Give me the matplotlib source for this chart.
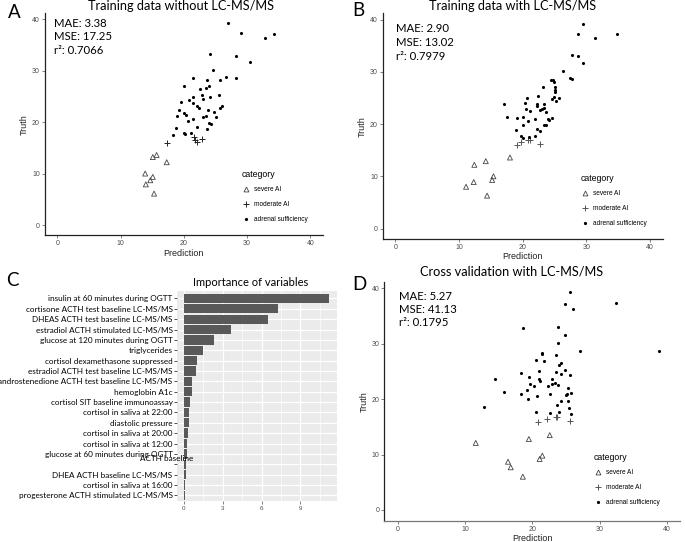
import numpy as np
import matplotlib
matplotlib.use("Agg")
import matplotlib.pyplot as plt
from matplotlib.lines import Line2D

# ---- data ----
# Panel A: training data without LC-MS/MS
a_severe_pred = [15.1, 15.7, 17.3, 13.9, 14.0, 14.7, 15.1, 15.3]
a_severe_truth = [13.2, 13.6, 12.2, 10.0, 7.9, 8.7, 9.35, 6.1]
a_moderate_pred = [17.3, 21.6, 21.7, 22.1, 22.8]
a_moderate_truth = [15.9, 17.1, 16.6, 16.1, 16.7]
a_suff_pred = [27.0, 29.0, 32.8, 34.3, 24.1, 28.2, 30.5, 24.6, 21.5, 23.6, 25.7, 26.7, 28.3,
               20.1, 24.0, 22.5, 23.5, 22.8, 24.2, 25.5, 21.4, 23.1, 19.6, 20.9, 21.5, 22.1,
               22.4, 23.9, 26.0, 25.7, 19.3, 24.8, 20.0, 20.4, 19.0, 23.0, 23.5, 25.1, 21.4,
               20.7, 24.0, 24.3, 22.1, 23.7, 18.7, 18.3, 20.0, 20.2, 21.1]
a_suff_truth = [39.3, 37.3, 36.4, 37.2, 33.2, 32.9, 31.6, 30.2, 28.6, 28.2, 28.1, 28.8, 28.6,
                27.0, 27.1, 26.4, 26.6, 25.3, 24.8, 25.2, 24.8, 24.4, 23.9, 24.2, 23.8, 23.2,
                22.8, 22.4, 23.1, 22.7, 22.4, 22.0, 21.7, 21.4, 21.1, 21.0, 21.2, 20.9, 20.6,
                20.2, 19.9, 19.7, 19.1, 18.6, 18.8, 17.4, 17.8, 17.6, 17.8]

# Panel B: training data with LC-MS/MS
b_severe_pred = [18.0, 12.4, 14.2, 15.4, 15.2, 11.1, 12.3, 14.4]
b_severe_truth = [13.6, 12.2, 12.9, 10.0, 9.3, 8.0, 8.9, 6.3]
b_moderate_pred = [19.1, 19.8, 20.8, 21.2, 22.7]
b_moderate_truth = [15.9, 16.5, 17.0, 16.9, 16.1]
b_suff_pred = [29.5, 28.7, 31.4, 34.8, 27.8, 28.7, 29.5, 26.4, 27.5, 27.7, 24.4, 24.7, 24.9,
               23.2, 25.0, 25.1, 25.0, 17.0, 20.6, 20.4, 22.4, 24.9, 25.7, 24.6, 25.3, 22.2,
               22.3, 23.3, 23.4, 22.7, 23.0, 23.6, 20.5, 21.1, 17.6, 19.1, 20.0, 20.8, 22.0,
               23.9, 24.1, 24.6, 20.1, 23.4, 23.6, 22.3, 18.9, 22.7, 19.7, 20.0, 21.0, 21.9]
b_suff_truth = [39.2, 37.3, 36.4, 37.3, 33.3, 33.0, 31.7, 30.2, 28.8, 28.7, 28.4, 28.5, 28.1,
                27.1, 27.1, 26.6, 26.2, 23.9, 24.9, 24.1, 25.3, 25.2, 24.9, 24.8, 24.4, 23.9,
                23.5, 23.9, 23.0, 22.6, 22.9, 22.3, 22.9, 22.5, 21.3, 21.1, 21.4, 20.6, 21.0,
                20.9, 20.7, 21.2, 19.8, 19.9, 19.8, 19.1, 18.8, 18.6, 17.8, 17.4, 17.6, 17.8]

# Panel D: cross validation with LC-MS/MS
d_severe_pred = [11.6, 19.5, 22.6, 21.5, 21.1, 16.4, 16.8, 18.6]
d_severe_truth = [12.1, 12.8, 13.5, 9.8, 9.2, 8.7, 7.7, 6.0]
d_moderate_pred = [20.9, 22.2, 23.6, 23.7, 25.6]
d_moderate_truth = [15.8, 16.4, 16.7, 16.8, 16.0]
d_suff_pred = [25.6, 24.8, 26.1, 32.4, 18.6, 23.8, 24.9, 23.8, 27.1, 38.9, 21.4, 21.4, 23.5,
               20.5, 21.8, 24.0, 24.3, 18.3, 21.0, 23.6, 24.9, 24.3, 25.6, 14.5, 19.5, 21.0,
               21.1, 22.9, 19.7, 20.3, 22.4, 22.9, 23.4, 23.9, 25.3, 18.3, 19.2, 15.8, 22.7,
               25.0, 25.2, 25.8, 19.4, 20.7, 24.3, 25.3, 23.7, 12.8, 25.5, 20.5, 22.6, 24.0, 25.7]
d_suff_truth = [39.3, 37.1, 36.2, 37.3, 32.9, 33.1, 31.5, 30.1, 28.6, 28.7, 28.4, 28.1, 28.0,
                27.0, 26.9, 26.2, 26.5, 24.7, 25.1, 24.9, 25.2, 24.5, 24.3, 23.7, 24.0, 23.7,
                23.3, 23.7, 22.8, 22.3, 22.4, 22.8, 22.9, 22.6, 22.0, 21.0, 21.6, 21.2, 20.9,
                20.7, 20.9, 21.1, 20.1, 20.5, 19.6, 19.7, 19.0, 18.6, 18.4, 17.7, 17.5, 17.7, 17.3]

# Panel C: variable importance (top to bottom)
variables = ["insulin at 60 minutes during OGTT", "cortisone ACTH test baseline LC-MS/MS",
             "DHEAS ACTH test baseline LC-MS/MS", "estradiol ACTH stimulated LC-MS/MS",
             "glucose at 120 minutes during OGTT", "triglycerides",
             "cortisol dexamethasone suppressed", "estradiol ACTH test baseline LC-MS/MS",
             "androstenedione ACTH test baseline LC-MS/MS", "hemoglobin A1c",
             "cortisol SIT baseline immunoassay", "cortisol in saliva at 22:00",
             "diastolic pressure", "cortisol in saliva at 20:00", "cortisol in saliva at 12:00",
             "glucose at 60 minutes during OGTT", "", "DHEA ACTH baseline LC-MS/MS",
             "cortisol in saliva at 16:00", "progesterone ACTH stimulated LC-MS/MS"]
importance = [11.24, 7.26, 6.52, 3.63, 2.33, 1.45, 0.99, 0.91, 0.61, 0.61,
              0.46, 0.41, 0.36, 0.28, 0.25, 0.23, 0.18, 0.13, 0.09, 0.05]

metrics_a = ["MAE: 3.38", "MSE: 17.25", "r²: 0.7066"]
metrics_b = ["MAE: 2.90", "MSE: 13.02", "r²: 0.7979"]
metrics_d = ["MAE: 5.27", "MSE: 41.13", "r²: 0.1795"]

W, H = 685, 542
fig = plt.figure(figsize=(W / 100, H / 100), dpi=100)

CAL = ["Lato", "DejaVu Sans"]
ARIAL = ["Liberation Sans", "DejaVu Sans"]


def px_axes(l, t, r, b):
    return fig.add_axes([l / W, 1 - b / H, (r - l) / W, (b - t) / H])


def ftext(x, y, s, **kw):
    fig.text(x / W, 1 - y / H, s, **kw)


def scatter_panel(box, sev, mod, suf, metrics, mpos, legpos, plus_color):
    ax = px_axes(*box)
    ax.scatter(sev[0], sev[1], marker="^", s=13, facecolors="none", edgecolors="#444444",
               linewidths=0.6)
    ax.scatter(mod[0], mod[1], marker="+", s=18, color=plus_color, linewidths=0.7)
    ax.scatter(suf[0], suf[1], marker="o", s=5, color="black", linewidths=0)
    ax.set_xlim(-2, 42)
    ax.set_ylim(-2, 41.2)
    ax.set_xticks([0, 10, 20, 30, 40])
    ax.set_yticks([0, 10, 20, 30, 40])
    for s in ["top", "right"]:
        ax.spines[s].set_visible(False)
    for s in ["left", "bottom"]:
        ax.spines[s].set_linewidth(0.9)
        ax.spines[s].set_color("#222222")
    ax.tick_params(labelsize=5, colors="#4d4d4d", length=2, width=0.5, pad=1.5)
    for lab in ax.get_xticklabels() + ax.get_yticklabels():
        lab.set_family(ARIAL)
    ax.set_xlabel("Prediction", fontsize=6.5, family=ARIAL, labelpad=1, color="#222222")
    ax.set_ylabel("Truth", fontsize=6.5, family=ARIAL, labelpad=2, color="#222222")
    for i, m in enumerate(metrics):
        ftext(mpos[0], mpos[1] + i * 13.5, m, fontsize=8.2, family=CAL, va="center")
    handles = [
        Line2D([], [], marker="^", ls="none", markerfacecolor="none", markeredgecolor="#444444",
               markersize=3.5, markeredgewidth=0.6),
        Line2D([], [], marker="+", ls="none", color=plus_color, markersize=4, markeredgewidth=0.7),
        Line2D([], [], marker="o", ls="none", color="black", markersize=2.3, markeredgewidth=0),
    ]
    leg = ax.legend(handles, ["severe AI", "moderate AI", "adrenal sufficiency"],
                    title="category", loc="upper left",
                    bbox_to_anchor=(legpos[0] / W, 1 - legpos[1] / H),
                    bbox_transform=fig.transFigure, frameon=False,
                    prop={"family": ARIAL, "size": 4.7}, title_fontproperties={"family": ARIAL, "size": 6.3},
                    handletextpad=0.6, labelspacing=1.25, handlelength=1.2, borderpad=0,
                    borderaxespad=0)
    leg._legend_box.align = "left"
    leg._legend_box.sep = 5
    return ax


scatter_panel((44.6, 13, 323, 235.3), (a_severe_pred, a_severe_truth),
              (a_moderate_pred, a_moderate_truth), (a_suff_pred, a_suff_truth),
              metrics_a, (54, 23.5), (242, 170), "#222222")
scatter_panel((382.7, 13.3, 662.7, 239), (b_severe_pred, b_severe_truth),
              (b_moderate_pred, b_moderate_truth), (b_suff_pred, b_suff_truth),
              metrics_b, (395.5, 29), (581, 174), "#555555")
axd = scatter_panel((384.3, 281.7, 680.2, 521), (d_severe_pred, d_severe_truth),
                    (d_moderate_pred, d_moderate_truth), (d_suff_pred, d_suff_truth),
                    metrics_d, (399.3, 296), (594, 453), "#555555")
axd.spines["bottom"].set_color("#777777")

# ---- panel C: importance bars ----
axc = px_axes(176.7, 290.7, 336.7, 501)
n = len(variables)
ypos = np.arange(n, 0, -1)
axc.set_facecolor("#EBEBEB")
axc.barh(ypos, importance, height=0.9, color="#595959", zorder=3)
axc.set_xlim(-0.56, 11.8)
axc.set_ylim(0.45, 20.75)
axc.set_xticks([0, 3, 6, 9])
axc.set_xticks([1.5, 4.5, 7.5, 10.5], minor=True)
axc.set_yticks(ypos)
axc.set_yticklabels(variables)
axc.grid(True, which="major", color="white", lw=0.9, zorder=0)
axc.grid(True, which="minor", axis="x", color="white", lw=0.45, zorder=0)
for s in axc.spines.values():
    s.set_visible(False)
axc.tick_params(axis="y", labelsize=5.9, colors="#333333", length=2, width=0.6, pad=1)
axc.tick_params(axis="x", which="major", labelsize=4.5, colors="#4d4d4d", length=2, width=0.5, pad=1.5)
axc.tick_params(axis="x", which="minor", length=0)
for lab in axc.get_yticklabels():
    lab.set_family(CAL)
    lab.set_color("black")
for lab in axc.get_xticklabels():
    lab.set_family(ARIAL)
axc.text(0.69, 4.55, "ACTH baseline", ha="right", va="center", fontsize=5.9, family=CAL,
         zorder=5)

# ---- titles and panel letters ----
ftext(181, 6, "Training data without LC-MS/MS", fontsize=9.2, family=CAL, ha="center", va="center")
ftext(513, 6, "Training data with LC-MS/MS", fontsize=9.2, family=CAL, ha="center", va="center")
ftext(512, 271, "Cross validation with LC-MS/MS", fontsize=9.2, family=CAL, ha="center", va="center")
ftext(251, 283, "Importance of variables", fontsize=8, family=CAL, ha="center", va="center")
ftext(14, 12, "A", fontsize=13.5, family=CAL, ha="center", va="center")
ftext(358, 11, "B", fontsize=13.5, family=CAL, ha="center", va="center")
ftext(12, 281, "C", fontsize=13.5, family=CAL, ha="center", va="center")
ftext(359, 285, "D", fontsize=13.5, family=CAL, ha="center", va="center")

fig.savefig("out.png", dpi=100)
